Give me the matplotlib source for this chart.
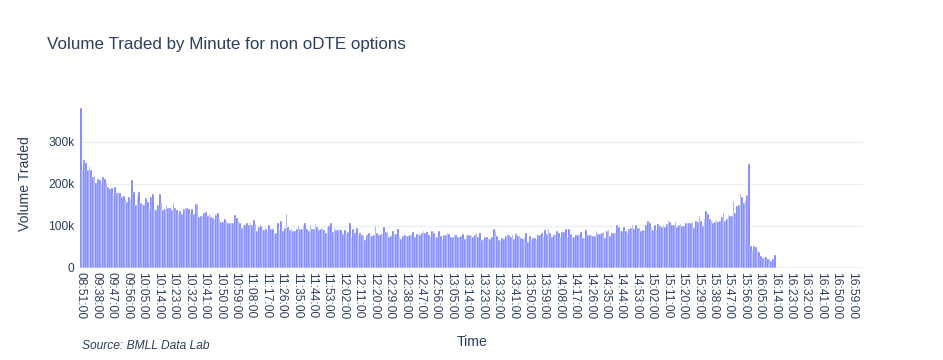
import matplotlib
matplotlib.use("Agg")
import matplotlib.pyplot as plt
from matplotlib.ticker import FuncFormatter

# ---- data (volume in thousands) ----
vol_0930_1044 = [380, 233, 257, 249, 233, 241, 233, 216, 219, 203,
                 211, 210, 202, 216, 211, 203, 192, 187, 190, 175,
                 192, 178, 182, 179, 168, 171, 165, 158, 168, 165,
                 210, 181, 150, 172, 180, 155, 153, 150, 167, 158,
                 140, 168, 177, 140, 138, 150, 176, 155, 137, 140,
                 151, 143, 143, 139, 155, 142, 137, 128, 135, 128,
                 140, 143, 142, 141, 130, 140, 129, 152, 152, 121,
                 124, 125, 132, 134, 125, 128]
vol_1045_1159 = [122, 118, 116, 126, 130, 116, 110, 110, 116, 110,
                 108, 106, 106, 108, 127, 118, 113, 106, 95, 102,
                 102, 106, 102, 108, 102, 114, 105, 88, 98, 100,
                 94, 90, 94, 87, 103, 92, 92, 81, 84, 108,
                 90, 111, 89, 96, 129, 97, 90, 94, 87, 87,
                 92, 100, 92, 92, 103, 106, 92, 87, 102, 94,
                 94, 105, 98, 90, 94, 95, 90, 84, 98, 100,
                 106, 86, 95, 90, 90]
vol_1200_1315 = [94, 90, 81, 90, 81, 86, 108, 73, 92, 84,
                 95, 79, 83, 78, 79, 67, 78, 84, 76, 76,
                 79, 100, 83, 79, 81, 81, 98, 86, 86, 75,
                 76, 87, 81, 81, 92, 75, 70, 76, 78, 76,
                 76, 79, 78, 86, 73, 81, 81, 78, 83, 87,
                 83, 86, 78, 75, 89, 83, 75, 73, 87, 76,
                 70, 78, 78, 83, 81, 73, 75, 78, 78, 73,
                 73, 76, 81, 70, 79, 78]
vol_1316_1431 = [78, 76, 73, 79, 83, 75, 83, 67, 70, 73,
                 73, 70, 70, 75, 94, 89, 76, 67, 67, 71,
                 70, 76, 81, 78, 75, 78, 70, 81, 76, 76,
                 71, 70, 73, 84, 62, 76, 70, 71, 71, 67,
                 78, 78, 83, 75, 90, 81, 94, 84, 73, 78,
                 81, 87, 84, 75, 86, 86, 92, 73, 92, 81,
                 75, 75, 78, 79, 81, 86, 71, 71, 90, 78,
                 78, 78, 76, 76, 87, 81]
vol_1432_1547 = [81, 84, 86, 71, 89, 90, 76, 84, 83, 83,
                 102, 98, 87, 87, 98, 87, 84, 94, 95, 102,
                 94, 102, 95, 95, 89, 90, 90, 102, 113, 106,
                 98, 90, 102, 90, 105, 100, 98, 102, 98, 105,
                 114, 110, 102, 103, 110, 98, 102, 105, 100, 100,
                 108, 108, 106, 108, 110, 95, 111, 110, 124, 111,
                 100, 116, 135, 129, 116, 113, 108, 110, 114, 110,
                 113, 121, 130, 113, 116, 126]
vol_1548_1605 = [124, 124, 160, 132, 148, 149, 176, 168, 154, 162,
                 173, 248, 52, 41, 52, 51, 41, 38, 29, 24,
                 24, 27, 22, 22, 17, 22, 32]
vol_1615_1705 = [1.5, 0.8, 0.6, 0.9, 0.5, 0.7, 0.4, 0.6, 0.8, 0.5,
                 0.4, 0.6, 0.3, 0.5, 0.7, 0.4, 0.5, 0.3, 0.6, 0.4,
                 0.3, 0.5, 0.4, 0.6, 0.3, 0.4, 0.5, 0.3, 0.4, 0.6,
                 0.3, 0.4, 0.3, 0.5, 0.4, 0.3, 0.5, 0.4, 0.3, 0.4,
                 0.3, 0.5, 0.3, 0.4, 0.6, 1.8, 0.4, 0.3, 0.5, 0.3,
                 0.4]

volume_k = (vol_0930_1044 + vol_1045_1159 + vol_1200_1315 + vol_1316_1431
            + vol_1432_1547 + vol_1548_1605 + vol_1615_1705)

# categories: a single pre-market minute followed by consecutive minutes from 09:30
first_minute = "08:51:00"
start_h, start_m = 9, 30
times = [first_minute]
for k in range(len(volume_k) - 1):
    tot = start_h * 60 + start_m + k
    times.append(f"{tot // 60:02d}:{tot % 60:02d}:00")

tick_step = 9
title = "Volume Traded by Minute for non oDTE options"
x_title = "Time"
y_title = "Volume Traded"
source = "Source: BMLL Data Lab"
y_ticks_k = [0, 100, 200, 300]

# ---- figure ----
W, H = 943, 360
fig = plt.figure(figsize=(W / 100, H / 100), dpi=100)
left, right, top, bottom = 80, 863, 100, 268
ax = fig.add_axes([left / W, 1 - bottom / H, (right - left) / W, (bottom - top) / H])

font = "Liberation Sans"
txt = "#2a3f5f"
grid = "#EBF0F8"

x = list(range(len(volume_k)))
ax.bar(x, volume_k, width=1.0, color="#636efa", edgecolor="white", linewidth=0.35, zorder=3)

ax.set_xlim(-0.5, len(volume_k) - 0.5)
ax.set_ylim(0, 400)
ax.set_yticks(y_ticks_k)
ax.yaxis.set_major_formatter(FuncFormatter(lambda v, p: "0" if v == 0 else f"{int(v)}k"))
ax.grid(axis="y", color=grid, linewidth=1, zorder=0)
ax.axhline(0, color=grid, linewidth=2, zorder=1)

tick_pos = x[::tick_step]
ax.set_xticks(tick_pos)
ax.set_xticklabels([times[i] for i in tick_pos], rotation=-90, fontfamily=font,
                   fontsize=8.64, color=txt)
for lab in ax.get_yticklabels():
    lab.set_fontfamily(font)
    lab.set_fontsize(8.64)
    lab.set_color(txt)
ax.tick_params(axis="both", length=0)
ax.tick_params(axis="x", pad=3)
ax.tick_params(axis="y", pad=4)

for s in ax.spines.values():
    s.set_visible(False)

fig.text(47 / W, 1 - 45 / H, title, fontfamily=font, fontsize=12.24, color=txt,
         ha="left", va="center")
fig.text(472 / W, 1 - 342 / H, x_title, fontfamily=font, fontsize=10.08, color=txt,
         ha="center", va="center")
fig.text(25 / W, 1 - 184 / H, y_title, fontfamily=font, fontsize=10.08, color=txt,
         ha="center", va="center", rotation=90)
fig.text(82 / W, 1 - 346 / H, source, fontfamily=font, fontsize=8.64, color=txt,
         ha="left", va="center", style="italic")

fig.savefig("out.png", dpi=100, facecolor="white")
